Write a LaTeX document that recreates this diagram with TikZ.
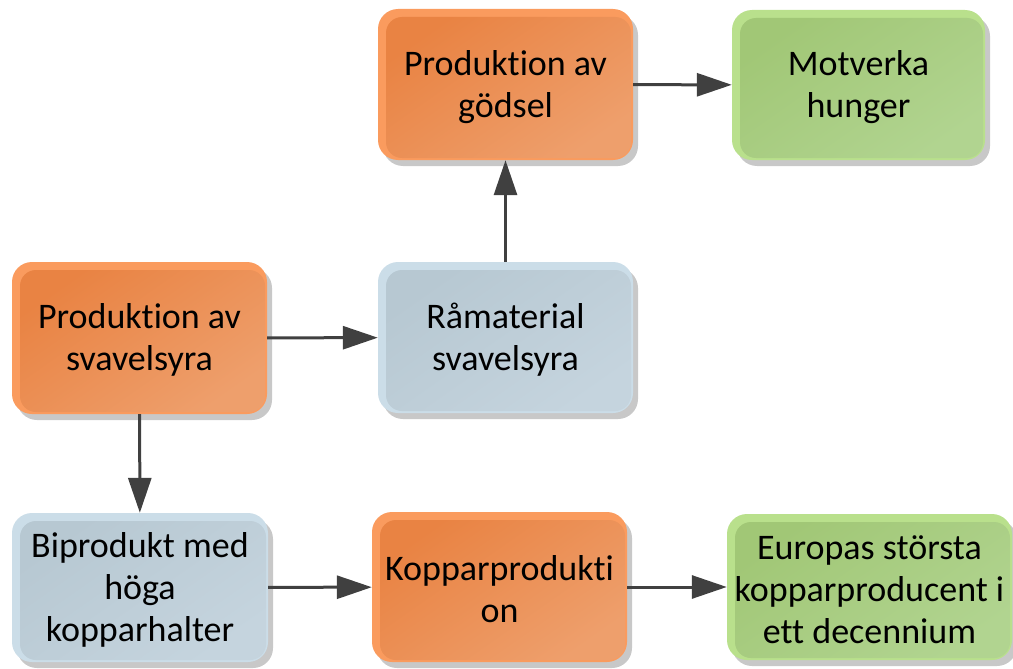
\documentclass[tikz,border=0pt]{standalone}
\usepackage{fontspec}
\setmainfont[RawFeature={-liga;-clig;-dlig;-calt}]{Carlito}
\usetikzlibrary{arrows.meta}
\definecolor{shadowc}{HTML}{C8C8C8}
\definecolor{orout}{HTML}{FA9B5E}
\definecolor{ora}{HTML}{E98343}
\definecolor{orb}{HTML}{EE9F6C}
\definecolor{blout}{HTML}{CBDDE8}
\definecolor{bla}{HTML}{B7C8D2}
\definecolor{blb}{HTML}{C5D4DE}
\definecolor{grout}{HTML}{B9E08C}
\definecolor{gra}{HTML}{A1C776}
\definecolor{grb}{HTML}{B1D490}
\definecolor{arrowc}{HTML}{404040}
\tikzset{
  boxtext/.style={inner sep=0pt, align=center, font=\fontsize{36}{42}\selectfont, text=black},
  conn/.style={draw=arrowc, line width=3pt, -{Triangle[length=35pt,width=23pt]}},
}
\newcommand\flowbox[7]{%
  \fill[shadowc, rounded corners=20pt] (#2+5,#3+6) rectangle (#4+5,#5+6);
  \fill[#6out, rounded corners=20pt] (#2,#3) rectangle (#4,#5);
  \shade[top color=#6a, bottom color=#6b, shading angle=35, rounded corners=16pt] (#2+8,#3+8) rectangle (#4-2,#5-2);
  \node[boxtext, minimum width=#4pt-#2pt, minimum height=#5pt-#3pt] (#1) at ({(#2+#4)/2},{(#3+#5)/2}) {\strut#7};
}
\begin{document}
\begin{tikzpicture}[x=1pt,y=-1pt]
\useasboundingbox (0,0) rectangle (1013,669);
\flowbox{A}{12}{262}{267}{414}{or}{Produktion av\\svavelsyra}
\flowbox{B}{378}{262}{633}{413}{bl}{Råmaterial\\svavelsyra}
\flowbox{C}{378}{9}{633}{160}{or}{Produktion av\\gödsel}
\flowbox{D}{732}{10}{985}{160}{gr}{Motverka\\hunger}
\flowbox{E}{12}{513}{268}{662}{bl}{Biprodukt med\\höga\\kopparhalter}
\flowbox{F}{372}{512}{627}{662}{or}{Kopparprodukti\\on}
\flowbox{G}{727}{514}{1012}{660}{gr}{Europas största\\kopparproducent i\\ett decennium}
\draw[conn] (A) -- (B);
\draw[conn] (B) -- (C);
\draw[conn] (C) -- (D);
\draw[conn] (A) -- (E);
\draw[conn] (E) -- (F);
\draw[conn] (F) -- (G);
\end{tikzpicture}
\end{document}
